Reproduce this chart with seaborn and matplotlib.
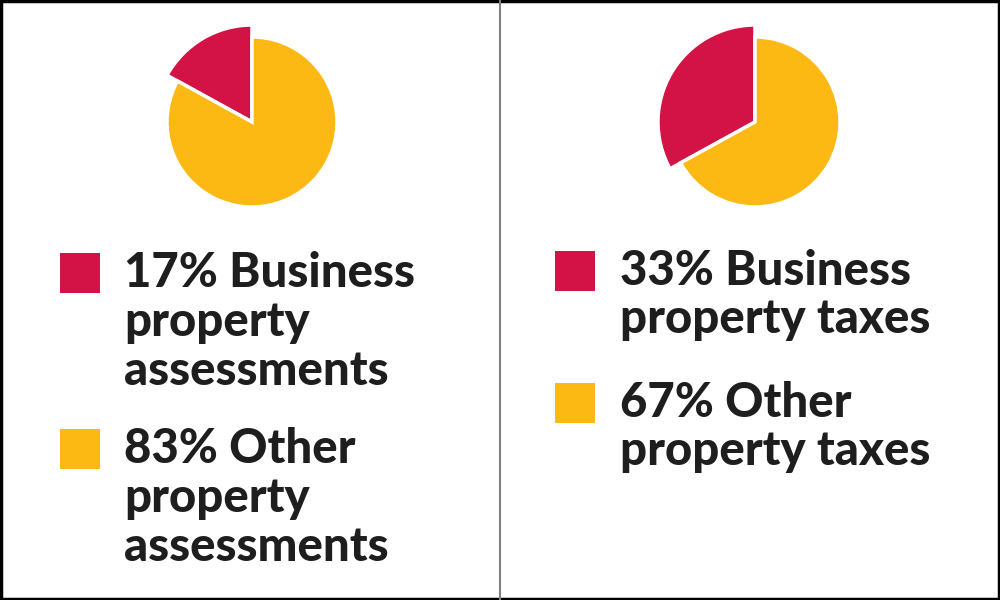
import matplotlib.pyplot as plt
import seaborn as sns
from matplotlib.patches import Rectangle

# data
left_shares = [17, 83]
right_shares = [33, 67]
left_labels = [["17% Business", "property", "assessments"],
               ["83% Other", "property", "assessments"]]
right_labels = [["33% Business", "property taxes"],
                ["67% Other", "property taxes"]]
colors = ["#D31245", "#FDB913"]

sns.set_style("white")
plt.rcParams["font.family"] = ["Lato", "DejaVu Sans"]

fig = plt.figure(figsize=(10, 6), dpi=100)
# one axis spanning the whole figure, in pixel-like units (y up)
ax = fig.add_axes([0, 0, 1, 1])


def draw_pie(shares, cx, cy):
    wedges, _ = ax.pie(shares, colors=colors, startangle=90, counterclock=True,
                       center=(cx, 600 - cy), radius=85, frame=True,
                       wedgeprops=dict(edgecolor="white", linewidth=2.5))
    # highlighted slice sticks out a bit
    wedges[0].set_radius(97)


def draw_legend(labels, x_sq, x_txt, baselines, step=49):
    for lines, base, col in zip(labels, baselines, colors):
        ax.add_patch(Rectangle((x_sq, 600 - (base - 34) - 40), 40, 40,
                               facecolor=col, edgecolor="none"))
        for i, line in enumerate(lines):
            ax.text(x_txt, 600 - (base + i * step), line, fontsize=34,
                    fontweight=900, color="#1e1e1e", va="baseline", ha="left")


draw_pie(left_shares, 252, 122)
draw_pie(right_shares, 755, 122)
draw_legend(left_labels, 60, 124, [287, 463])
draw_legend(right_labels, 555, 620, [285, 417], step=48)

# divider and frame
ax.plot([500, 500], [0, 600], color="#808080", linewidth=1.5)
ax.add_patch(Rectangle((1, 1), 998, 598, facecolor="none",
                       edgecolor="black", linewidth=2.5))

ax.set_xlim(0, 1000)
ax.set_ylim(0, 600)
ax.set_aspect("auto")
ax.axis("off")

plt.savefig("out.png", dpi=100)
